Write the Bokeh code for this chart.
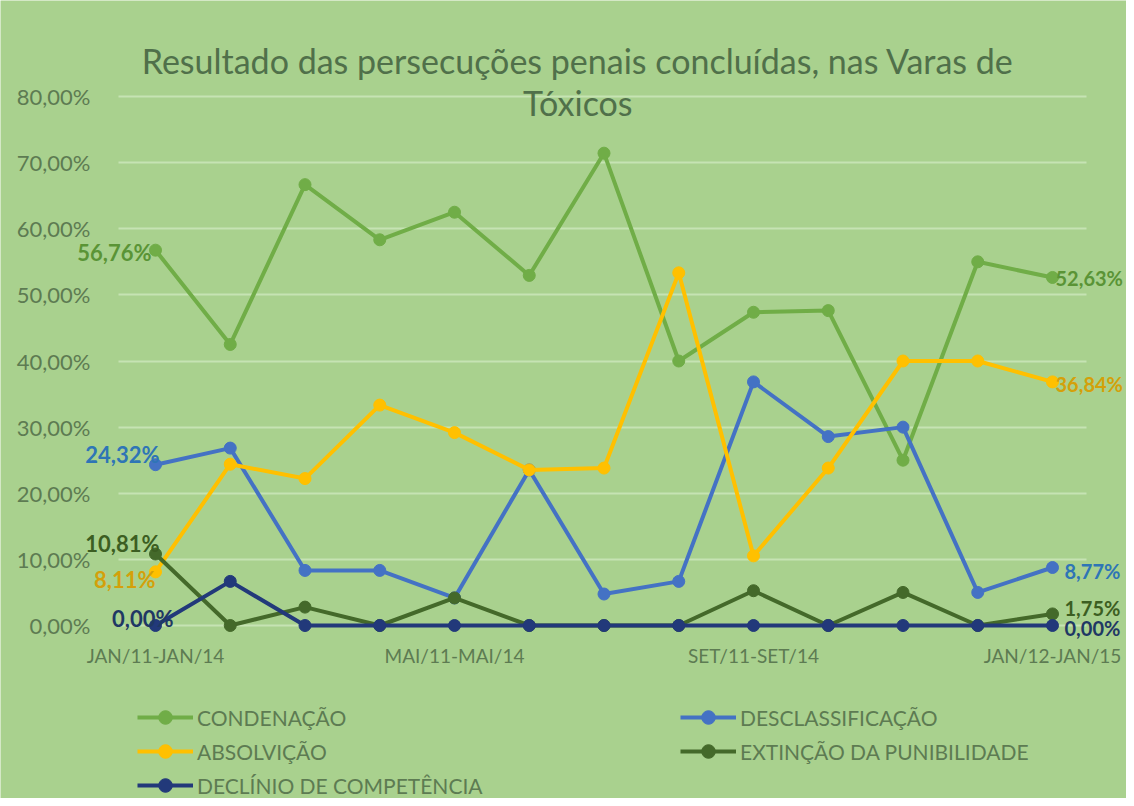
from bokeh.plotting import figure
from bokeh.models import FixedTicker, Label, Legend, LegendItem, Range1d
from bokeh.embed import file_html
from bokeh.resources import INLINE

# ---------------- data ----------------
categories = ["JAN/11-JAN/14", "FEV/11-FEV/14", "MAR/11-MAR/14", "ABR/11-ABR/14",
              "MAI/11-MAI/14", "JUN/11-JUN/14", "JUL/11-JUL/14", "AGO/11-AGO/14",
              "SET/11-SET/14", "OUT/11-OUT/14", "NOV/11-NOV/14", "DEZ/11-DEZ/14",
              "JAN/12-JAN/15"]
condenacao = [56.76, 42.50, 66.67, 58.33, 62.50, 52.94, 71.43, 40.00, 47.37, 47.62, 25.00, 55.00, 52.63]
desclassificacao = [24.32, 26.83, 8.33, 8.33, 4.17, 23.53, 4.76, 6.67, 36.84, 28.57, 30.00, 5.00, 8.77]
absolvicao = [8.11, 24.39, 22.22, 33.33, 29.17, 23.53, 23.81, 53.33, 10.53, 23.81, 40.00, 40.00, 36.84]
extincao = [10.81, 0.00, 2.78, 0.00, 4.17, 0.00, 0.00, 0.00, 5.26, 0.00, 5.00, 0.00, 1.75]
declinio = [0.00, 6.67, 0.00, 0.00, 0.00, 0.00, 0.00, 0.00, 0.00, 0.00, 0.00, 0.00, 0.00]
series_names = ["CONDENAÇÃO", "DESCLASSIFICAÇÃO", "ABSOLVIÇÃO",
                "EXTINÇÃO DA PUNIBILIDADE", "DECLÍNIO DE COMPETÊNCIA"]
y_ticks = [0, 10, 20, 30, 40, 50, 60, 70, 80]
y_tick_labels = ["0,00%", "10,00%", "20,00%", "30,00%", "40,00%",
                 "50,00%", "60,00%", "70,00%", "80,00%"]
title_lines = ["Resultado das persecuções penais concluídas, nas Varas de", "Tóxicos"]

# ---------------- style ----------------
FONT = "Lato"
BG = "#A9D18E"
GRID = "#C6E3B3"
AXIS_TXT = "#5D7B52"
TITLE_TXT = "#50704A"
line_colors = ["#70AD47", "#4472C4", "#FFC000", "#44692A", "#22397A"]
label_colors = ["#5A9436", "#2E75B6", "#D4A00A", "#3C5E22", "#1F3864"]
# (x_offset, y_offset, align, font size) for the first and last data label of each series
first_lab = [(-4, -2, "right", "22px"), (4, 10, "right", "22px"), (0, -8, "right", "22px"),
             (4, 11, "right", "22px"), (18, 7, "right", "22px")]
last_lab = [(3, -1, "left", "20px"), (12, -3, "left", "20px"), (3, -2, "left", "20px"),
            (12, 6, "left", "20px"), (12, -2, "left", "20px")]
legend_order = [0, 2, 4, 1, 3]   # column-major fill -> rows read like the original

W, H = 1126, 798
n = len(categories)
xs = list(range(n))
data = [condenacao, desclassificacao, absolvicao, extincao, declinio]

# the frame fills the whole figure; the value area is placed through the ranges
X_PX0, X_STEP = 155.0, 74.75      # pixel of first category, pixels per category
Y_PX0, Y_STEP = 625.0, 6.6125     # pixel of 0 %, pixels per 1 %
x_range = Range1d(-X_PX0 / X_STEP, (W - X_PX0) / X_STEP)
y_range = Range1d(-(H - Y_PX0) / Y_STEP, Y_PX0 / Y_STEP)

p = figure(width=W, height=H, output_backend="svg", toolbar_location=None,
           x_range=x_range, y_range=y_range, min_border=0)
p.background_fill_color = BG
p.border_fill_color = BG
p.outline_line_color = None

gx0, gx1 = -0.495, n - 0.55
p.xgrid.visible = False
try:
    p.ygrid.cross_bounds = (gx0, gx1)
    p.ygrid.ticker = FixedTicker(ticks=y_ticks)
    p.ygrid.grid_line_color = GRID
    p.ygrid.grid_line_width = 2
except Exception:
    p.ygrid.visible = False
    p.segment(x0=gx0, x1=gx1, y0=y_ticks, y1=y_ticks, line_color=GRID, line_width=2)

p.yaxis.ticker = FixedTicker(ticks=y_ticks)
p.yaxis.major_label_overrides = {t: l for t, l in zip(y_ticks, y_tick_labels)}
p.yaxis.fixed_location = gx0
p.yaxis.bounds = (y_ticks[0], y_ticks[-1])
p.xaxis.ticker = FixedTicker(ticks=xs[::4])
p.xaxis.major_label_overrides = {i: categories[i] for i in xs[::4]}
p.xaxis.fixed_location = 0
p.xaxis.bounds = (0, n - 1)
for ax in (p.xaxis, p.yaxis):
    ax.axis_line_color = None
    ax.major_tick_line_color = None
    ax.minor_tick_line_color = None
    ax.major_label_text_font = FONT
    ax.major_label_text_color = AXIS_TXT
p.yaxis.major_label_text_font_size = "22px"
p.xaxis.major_label_text_font_size = "19px"
p.yaxis.major_label_standoff = 22
p.xaxis.major_label_standoff = 12

items = []
for name, vals, col in zip(series_names, data, line_colors):
    r1 = p.line(xs, vals, line_color=col, line_width=4, line_join="round")
    r2 = p.scatter(xs, vals, size=12, fill_color=col, line_color=col)
    items.append(LegendItem(label=name, renderers=[r1, r2]))

# data labels for the first and last points
for vals, col, fl, ll in zip(data, label_colors, first_lab, last_lab):
    for idx, (dx, dy, al, fs) in ((0, fl), (n - 1, ll)):
        txt = ("%.2f" % vals[idx]).replace(".", ",") + "%"
        p.add_layout(Label(x=xs[idx], y=vals[idx], text=txt, x_offset=dx, y_offset=dy,
                           text_align=al, text_baseline="middle", text_font=FONT,
                           text_font_style="bold", text_font_size=fs, text_color=col))

# title (two lines, overlapping the top of the value area like the original)
p.add_layout(Label(x=5.65, y=85.45, text=title_lines[0], text_align="center",
                   text_baseline="middle", text_font=FONT, text_font_size="34px",
                   text_color=TITLE_TXT))
p.add_layout(Label(x=5.65, y=79.1, text=title_lines[1], text_align="center",
                   text_baseline="middle", text_font=FONT, text_font_size="34px",
                   text_color=TITLE_TXT))

legend = Legend(items=[items[i] for i in legend_order], ncols=2, location=(137, -4),
                padding=0, margin=0, spacing=0,
                glyph_width=56, glyph_height=34, label_standoff=4, label_width=483,
                label_text_font=FONT, label_text_font_size="21px", label_text_color=AXIS_TXT,
                background_fill_alpha=0, border_line_color=None)
p.add_layout(legend, "center")

open("out.html", "w").write(file_html(p, INLINE))
